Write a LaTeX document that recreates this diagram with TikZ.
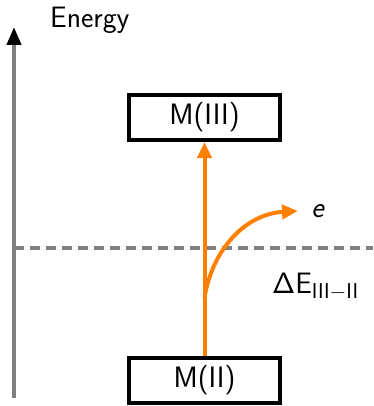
\RequirePackage{fix-cm}
\documentclass[tikz,border=0pt]{standalone}
\usetikzlibrary{arrows.meta}
\definecolor{eorange}{RGB}{255,128,0}
\definecolor{egray}{RGB}{128,128,128}
\begin{document}
\begin{tikzpicture}[x=1pt,y=-1pt,
  level/.style={draw=black,line width=4pt,minimum width=151pt,minimum height=45pt,inner sep=0pt,font=\fontsize{29.5}{33}\selectfont\sffamily},
  lbl/.style={inner sep=0pt,font=\fontsize{29.5}{33}\selectfont\sffamily},
  trans/.style={draw=eorange,line width=4pt,-{Triangle[length=16pt,width=14pt]}}]
\useasboundingbox (0,0) rectangle (373,406);
\coordinate (axb) at (14,398);
\coordinate (axt) at (14,27);
\draw[egray,line width=4pt,-{Triangle[length=18pt,width=14pt,color=black]}] (axb) -- (axt);
\node[lbl,anchor=base west] (energy) at (50,28) {Energy};
\coordinate (dl) at (14,248);
\coordinate (dr) at (373,248);
\draw[egray,line width=4pt,dash pattern=on 10pt off 6pt] (dl) -- (dr);
\node[level] (m3) at (204.5,117.5) {M(III)};
\node[level] (m2) at (204.5,380.5) {M(II)};
\draw[trans] (m2.north) -- (m3.south);
\coordinate (cs) at (204.5,298);
\coordinate (ce) at (298,211);
\draw[trans] (cs) .. controls (212,250) and (245,214) .. (ce);
\node[lbl,font=\fontsize{29.5}{33}\selectfont\sffamily\itshape] (e) at (317.5,211.5) {e};
\node[lbl,anchor=base west] (de) at (272,293) {$\mathsf{\Delta}$E\raisebox{-5pt}{\fontsize{21.5}{24}\selectfont III$-$II}};
\end{tikzpicture}
\end{document}
